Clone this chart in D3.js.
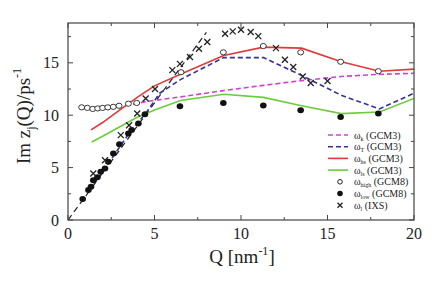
<!DOCTYPE html>
<meta charset="utf-8"/>
<title>Im z(Q)</title>
<script src="https://cdn.jsdelivr.net/npm/d3@7"></script>
<style>
  body { margin: 0; background: #fff; }
  svg text { font-family: 'Liberation Serif', 'DejaVu Serif', serif; fill: #222; }
</style>
<svg width=436 height=281></svg>
<script>
  // GCM3 curves
  const omegaK = [[3.3, 10.9], [4.5, 11.3], [6.5, 11.75], [9, 12.35], [11.3, 12.85], [13.5, 13.3], [15.8, 13.7], [18, 13.9], [20, 14.0]];
  const omegaT = [[1.5, 3.4], [2.5, 5.8], [3.5, 8.2], [4.5, 10.2], [5.3, 12.1], [6.5, 13.4], [9, 15.5], [11.3, 15.5], [13.5, 13.8], [15.8, 11.9], [18, 10.6], [20, 12.1]];
  const omegaHs = [[1.33, 8.6], [2, 9.3], [3, 10.5], [4, 11.7], [5, 12.8], [6.5, 13.9], [9, 15.7], [11.3, 16.5], [13.5, 16.4], [15.8, 15.1], [18, 14.2], [20, 14.4]];
  const omegaLs = [[1.37, 7.45], [2, 8.0], [3, 8.9], [4, 9.8], [5, 10.5], [6.5, 11.4], [9, 12.0], [11.3, 11.7], [13.5, 10.9], [15.8, 10.15], [18, 10.3], [20, 11.6]];
  // GCM8 points
  const omegaHigh = [[0.79, 10.75], [1.12, 10.7], [1.43, 10.6], [1.72, 10.65], [2.0, 10.7], [2.3, 10.75], [2.62, 10.8], [2.95, 10.9],
    [3.49, 11.1], [3.97, 11.17], [6.53, 14.1], [8.98, 16.0], [11.29, 16.6], [13.45, 16.0], [15.76, 15.1], [17.94, 14.2]];
  const omegaLow = [[0.85, 2.0], [1.18, 2.86], [1.33, 3.17], [1.46, 3.8], [1.7, 4.07], [1.89, 4.6], [2.14, 4.92], [2.33, 5.55],
    [2.62, 6.35], [2.97, 7.24], [3.49, 8.25], [3.68, 8.6], [4.07, 9.2], [4.45, 10.1],
    [6.47, 10.86], [8.98, 11.17], [11.29, 10.92], [13.45, 10.48], [15.76, 9.84], [17.94, 10.16]];
  // IXS
  const omegaL = [[1.46, 4.44], [2.14, 5.7], [3.05, 8.1], [3.53, 9.05], [4.0, 10.16], [4.49, 11.6], [5.03, 12.5], [6.03, 14.3],
    [6.47, 14.9], [7.05, 15.55], [7.57, 16.35], [8.05, 16.98], [9.08, 17.78], [9.52, 18.0], [10.0, 18.16], [10.56, 17.94],
    [11.0, 17.55], [12.02, 16.4], [12.54, 15.3], [13.02, 14.6], [13.57, 13.7], [14.03, 13.07], [15.0, 13.27]];
  const hydroLine = [[0, 0], [8.0, 17.9]];
  const xTicks = [0, 5, 10, 15, 20];
  const yTicks = [0, 5, 10, 15];

  const svg = d3.select('svg');
  const m = {left: 68, top: 23, right: 22, bottom: 61};
  const w = 436 - m.left - m.right, h = 281 - m.top - m.bottom;
  const x = d3.scaleLinear().domain([0, 20]).range([0, w]);
  const y = d3.scaleLinear().domain([0, 18.8]).range([h, 0]);
  const g = svg.append('g').attr('transform', 'translate(' + m.left + ',' + m.top + ')');

  const line = d3.line().x(d => x(d[0])).y(d => y(d[1]));
  g.append('clipPath').attr('id', 'c').append('rect').attr('width', w).attr('height', h);
  const plot = g.append('g').attr('clip-path', 'url(#c)');

  plot.append('path').datum(hydroLine).attr('d', line)
    .style('fill', 'none').style('stroke', '#222').style('stroke-width', 1.2).style('stroke-dasharray', '6 4');

  const curves = [
    {data: omegaK, color: '#cc44cc', dash: '5 3'},
    {data: omegaT, color: '#33339a', dash: '5 3'},
    {data: omegaHs, color: '#e0393a', dash: null},
    {data: omegaLs, color: '#6ccc3c', dash: null}
  ];
  curves.forEach(c => {
    plot.append('path').datum(c.data).attr('d', line)
      .style('fill', 'none').style('stroke', c.color).style('stroke-width', 1.6)
      .style('stroke-dasharray', c.dash);
  });

  plot.selectAll('.high').data(omegaHigh).enter().append('ellipse')
    .attr('cx', d => x(d[0])).attr('cy', d => y(d[1])).attr('rx', 3).attr('ry', 2.6)
    .style('fill', '#fff').style('stroke', '#222').style('stroke-width', 0.9);
  plot.selectAll('.low').data(omegaLow).enter().append('ellipse')
    .attr('cx', d => x(d[0])).attr('cy', d => y(d[1])).attr('rx', 3.3).attr('ry', 3)
    .style('fill', '#111');
  plot.selectAll('.ixs').data(omegaL).enter().append('path')
    .attr('transform', d => 'translate(' + x(d[0]) + ',' + y(d[1]) + ')')
    .attr('d', 'M-3,-3L3,3M-3,3L3,-3')
    .style('stroke', '#222').style('stroke-width', 1.3);

  // frame and ticks
  g.append('rect').attr('width', w).attr('height', h)
    .style('fill', 'none').style('stroke', '#444').style('stroke-width', 1.2);
  const xMinor = d3.range(0, 20.01, 2.5), yMinor = d3.range(0, 18.8, 2.5);
  xMinor.forEach(v => {
    const len = v % 5 === 0 ? 5 : 3;
    g.append('line').attr('x1', x(v)).attr('x2', x(v)).attr('y1', h).attr('y2', h - len).style('stroke', '#444');
    g.append('line').attr('x1', x(v)).attr('x2', x(v)).attr('y1', 0).attr('y2', len).style('stroke', '#444');
  });
  yMinor.forEach(v => {
    const len = v % 5 === 0 ? 5 : 3;
    g.append('line').attr('y1', y(v)).attr('y2', y(v)).attr('x1', 0).attr('x2', len).style('stroke', '#444');
    g.append('line').attr('y1', y(v)).attr('y2', y(v)).attr('x1', w).attr('x2', w - len).style('stroke', '#444');
  });
  g.selectAll('.xt').data(xTicks).enter().append('text')
    .attr('x', d => x(d)).attr('y', h + 19).attr('text-anchor', 'middle')
    .style('font-size', '16px').text(d => d);
  g.selectAll('.yt').data(yTicks).enter().append('text')
    .attr('x', -9).attr('y', d => y(d)).attr('dy', '0.35em').attr('text-anchor', 'end')
    .style('font-size', '16px').text(d => d);

  // axis titles
  const xt = svg.append('text').attr('x', 242).attr('y', 263).attr('text-anchor', 'middle').style('font-size', '19px');
  xt.append('tspan').text('Q [nm');
  xt.append('tspan').attr('dy', -8).style('font-size', '12px').text('-1');
  xt.append('tspan').attr('dy', 8).text(']');

  const yt = svg.append('text').attr('transform', 'translate(30,116)rotate(-90)').attr('text-anchor', 'middle').style('font-size', '19px');
  yt.append('tspan').text('Im z');
  yt.append('tspan').attr('dy', 5).style('font-size', '12px').text('j');
  yt.append('tspan').attr('dy', -5).text('(Q)/ps');
  yt.append('tspan').attr('dy', -9).style('font-size', '12px').text('-1');

  // legend
  const legend = [
    {sym: 'line', color: '#cc44cc', dash: '5 3', sub: 'k', src: '(GCM3)'},
    {sym: 'line', color: '#33339a', dash: '5 3', sub: 'T', src: '(GCM3)'},
    {sym: 'line', color: '#e0393a', dash: null, sub: 'hs', src: '(GCM3)'},
    {sym: 'line', color: '#6ccc3c', dash: null, sub: 'ls', src: '(GCM3)'},
    {sym: 'open', sub: 'high', src: '(GCM8)'},
    {sym: 'filled', sub: 'low', src: '(GCM8)'},
    {sym: 'cross', sub: 'l', src: '(IXS)'}
  ];
  const lg = svg.append('g').attr('transform', 'translate(328,135)');
  legend.forEach((d, i) => {
    const r = lg.append('g').attr('transform', 'translate(0,' + (i * 11.7) + ')');
    if (d.sym === 'line') {
      r.append('line').attr('x1', 0).attr('x2', 20).style('stroke', d.color).style('stroke-width', 1.6).style('stroke-dasharray', d.dash);
    } else if (d.sym === 'open') {
      r.append('circle').attr('cx', 12).attr('r', 2.3).style('fill', '#fff').style('stroke', '#222');
    } else if (d.sym === 'filled') {
      r.append('circle').attr('cx', 12).attr('r', 2.8).style('fill', '#111');
    } else {
      r.append('path').attr('transform', 'translate(12,0)').attr('d', 'M-2.5,-2.5L2.5,2.5M-2.5,2.5L2.5,-2.5').style('stroke', '#222').style('stroke-width', 1.3);
    }
    const t = r.append('text').attr('x', 26).attr('y', 3.5).style('font-size', '10px');
    t.append('tspan').text('\u03c9');
    t.append('tspan').attr('dy', 2).style('font-size', '6px').text(d.sub);
    t.append('tspan').attr('dy', -2).text(' ' + d.src);
  });
</script>
